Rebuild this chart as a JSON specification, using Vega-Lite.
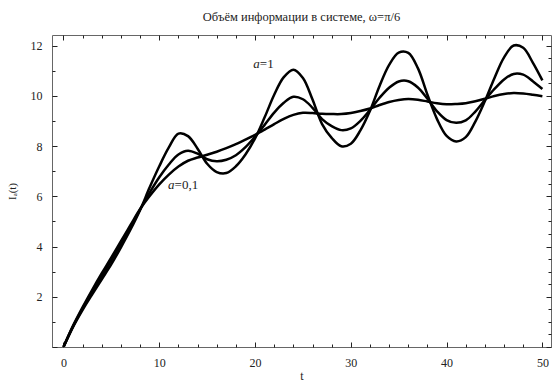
{
  "$schema": "https://vega.github.io/schema/vega-lite/v6.json",
  "autosize": "none",
  "width": 499,
  "height": 312,
  "padding": {"left": 52, "top": 35, "right": 2, "bottom": 38},
  "background": "white",
  "config": {
    "view": {"stroke": "#666666", "strokeWidth": 1},
    "font": "Liberation Serif",
    "axis": {"grid": false, "labelFont": "Liberation Serif", "titleFont": "Liberation Serif", "labelColor": "#222222", "titleColor": "#222222", "titleFontWeight": "normal", "labelFontSize": 12, "titleFontSize": 12, "domain": false, "tickColor": "#222222", "tickWidth": 1}
  },
  "title": {"text": "Объём информации  в системе, ω=π/6", "font": "Liberation Serif", "fontSize": 12.5, "fontWeight": "normal", "color": "#222222", "anchor": "middle", "offset": 11},
  "datasets": {
    "curves": [
      {"t":0,"I":0,"series":"a=1"},{"t":1,"I":0.80,"series":"a=1"},{"t":2,"I":1.48,"series":"a=1"},{"t":3,"I":2.10,"series":"a=1"},{"t":4,"I":2.70,"series":"a=1"},{"t":5,"I":3.30,"series":"a=1"},{"t":6,"I":3.97,"series":"a=1"},{"t":7,"I":4.68,"series":"a=1"},{"t":8,"I":5.46,"series":"a=1"},{"t":9,"I":6.36,"series":"a=1"},{"t":10,"I":7.20,"series":"a=1"},{"t":11,"I":7.95,"series":"a=1"},{"t":12,"I":8.50,"series":"a=1"},{"t":13,"I":8.40,"series":"a=1"},{"t":14,"I":7.90,"series":"a=1"},{"t":15,"I":7.30,"series":"a=1"},{"t":16,"I":6.97,"series":"a=1"},{"t":17,"I":6.93,"series":"a=1"},{"t":18,"I":7.20,"series":"a=1"},{"t":19,"I":7.67,"series":"a=1"},{"t":20,"I":8.31,"series":"a=1"},{"t":21,"I":9.15,"series":"a=1"},{"t":22,"I":10.05,"series":"a=1"},{"t":23,"I":10.75,"series":"a=1"},{"t":24,"I":11.05,"series":"a=1"},{"t":25,"I":10.72,"series":"a=1"},{"t":26,"I":9.86,"series":"a=1"},{"t":27,"I":8.88,"series":"a=1"},{"t":28,"I":8.33,"series":"a=1"},{"t":29,"I":8.00,"series":"a=1"},{"t":30,"I":8.10,"series":"a=1"},{"t":31,"I":8.63,"series":"a=1"},{"t":32,"I":9.41,"series":"a=1"},{"t":33,"I":10.40,"series":"a=1"},{"t":34,"I":11.24,"series":"a=1"},{"t":35,"I":11.73,"series":"a=1"},{"t":36,"I":11.72,"series":"a=1"},{"t":37,"I":11.11,"series":"a=1"},{"t":38,"I":10.05,"series":"a=1"},{"t":39,"I":9.08,"series":"a=1"},{"t":40,"I":8.41,"series":"a=1"},{"t":41,"I":8.19,"series":"a=1"},{"t":42,"I":8.36,"series":"a=1"},{"t":43,"I":8.98,"series":"a=1"},{"t":44,"I":9.80,"series":"a=1"},{"t":45,"I":10.72,"series":"a=1"},{"t":46,"I":11.54,"series":"a=1"},{"t":47,"I":12.01,"series":"a=1"},{"t":48,"I":11.92,"series":"a=1"},{"t":49,"I":11.33,"series":"a=1"},{"t":50,"I":10.62,"series":"a=1"},
      {"t":0,"I":0,"series":"a=0.5"},{"t":1,"I":0.82,"series":"a=0.5"},{"t":2,"I":1.54,"series":"a=0.5"},{"t":3,"I":2.20,"series":"a=0.5"},{"t":4,"I":2.83,"series":"a=0.5"},{"t":5,"I":3.45,"series":"a=0.5"},{"t":6,"I":4.11,"series":"a=0.5"},{"t":7,"I":4.78,"series":"a=0.5"},{"t":8,"I":5.48,"series":"a=0.5"},{"t":9,"I":6.15,"series":"a=0.5"},{"t":10,"I":6.76,"series":"a=0.5"},{"t":11,"I":7.27,"series":"a=0.5"},{"t":12,"I":7.67,"series":"a=0.5"},{"t":13,"I":7.82,"series":"a=0.5"},{"t":14,"I":7.70,"series":"a=0.5"},{"t":15,"I":7.48,"series":"a=0.5"},{"t":16,"I":7.40,"series":"a=0.5"},{"t":17,"I":7.46,"series":"a=0.5"},{"t":18,"I":7.64,"series":"a=0.5"},{"t":19,"I":7.96,"series":"a=0.5"},{"t":20,"I":8.38,"series":"a=0.5"},{"t":21,"I":8.85,"series":"a=0.5"},{"t":22,"I":9.34,"series":"a=0.5"},{"t":23,"I":9.73,"series":"a=0.5"},{"t":24,"I":9.97,"series":"a=0.5"},{"t":25,"I":9.87,"series":"a=0.5"},{"t":26,"I":9.53,"series":"a=0.5"},{"t":27,"I":9.08,"series":"a=0.5"},{"t":28,"I":8.80,"series":"a=0.5"},{"t":29,"I":8.64,"series":"a=0.5"},{"t":30,"I":8.71,"series":"a=0.5"},{"t":31,"I":9.01,"series":"a=0.5"},{"t":32,"I":9.45,"series":"a=0.5"},{"t":33,"I":9.93,"series":"a=0.5"},{"t":34,"I":10.33,"series":"a=0.5"},{"t":35,"I":10.58,"series":"a=0.5"},{"t":36,"I":10.59,"series":"a=0.5"},{"t":37,"I":10.34,"series":"a=0.5"},{"t":38,"I":9.89,"series":"a=0.5"},{"t":39,"I":9.39,"series":"a=0.5"},{"t":40,"I":9.04,"series":"a=0.5"},{"t":41,"I":8.93,"series":"a=0.5"},{"t":42,"I":9.03,"series":"a=0.5"},{"t":43,"I":9.38,"series":"a=0.5"},{"t":44,"I":9.84,"series":"a=0.5"},{"t":45,"I":10.28,"series":"a=0.5"},{"t":46,"I":10.66,"series":"a=0.5"},{"t":47,"I":10.88,"series":"a=0.5"},{"t":48,"I":10.85,"series":"a=0.5"},{"t":49,"I":10.59,"series":"a=0.5"},{"t":50,"I":10.28,"series":"a=0.5"},
      {"t":0,"I":0,"series":"a=0.1"},{"t":1,"I":0.85,"series":"a=0.1"},{"t":2,"I":1.59,"series":"a=0.1"},{"t":3,"I":2.28,"series":"a=0.1"},{"t":4,"I":2.94,"series":"a=0.1"},{"t":5,"I":3.57,"series":"a=0.1"},{"t":6,"I":4.22,"series":"a=0.1"},{"t":7,"I":4.86,"series":"a=0.1"},{"t":8,"I":5.50,"series":"a=0.1"},{"t":9,"I":6.02,"series":"a=0.1"},{"t":10,"I":6.48,"series":"a=0.1"},{"t":11,"I":6.87,"series":"a=0.1"},{"t":12,"I":7.19,"series":"a=0.1"},{"t":13,"I":7.42,"series":"a=0.1"},{"t":14,"I":7.55,"series":"a=0.1"},{"t":15,"I":7.66,"series":"a=0.1"},{"t":16,"I":7.78,"series":"a=0.1"},{"t":17,"I":7.92,"series":"a=0.1"},{"t":18,"I":8.08,"series":"a=0.1"},{"t":19,"I":8.26,"series":"a=0.1"},{"t":20,"I":8.45,"series":"a=0.1"},{"t":21,"I":8.66,"series":"a=0.1"},{"t":22,"I":8.88,"series":"a=0.1"},{"t":23,"I":9.09,"series":"a=0.1"},{"t":24,"I":9.25,"series":"a=0.1"},{"t":25,"I":9.33,"series":"a=0.1"},{"t":26,"I":9.32,"series":"a=0.1"},{"t":27,"I":9.29,"series":"a=0.1"},{"t":28,"I":9.28,"series":"a=0.1"},{"t":29,"I":9.28,"series":"a=0.1"},{"t":30,"I":9.32,"series":"a=0.1"},{"t":31,"I":9.40,"series":"a=0.1"},{"t":32,"I":9.50,"series":"a=0.1"},{"t":33,"I":9.64,"series":"a=0.1"},{"t":34,"I":9.76,"series":"a=0.1"},{"t":35,"I":9.84,"series":"a=0.1"},{"t":36,"I":9.88,"series":"a=0.1"},{"t":37,"I":9.85,"series":"a=0.1"},{"t":38,"I":9.78,"series":"a=0.1"},{"t":39,"I":9.71,"series":"a=0.1"},{"t":40,"I":9.67,"series":"a=0.1"},{"t":41,"I":9.68,"series":"a=0.1"},{"t":42,"I":9.71,"series":"a=0.1"},{"t":43,"I":9.79,"series":"a=0.1"},{"t":44,"I":9.89,"series":"a=0.1"},{"t":45,"I":10.00,"series":"a=0.1"},{"t":46,"I":10.08,"series":"a=0.1"},{"t":47,"I":10.12,"series":"a=0.1"},{"t":48,"I":10.10,"series":"a=0.1"},{"t":49,"I":10.05,"series":"a=0.1"},{"t":50,"I":9.99,"series":"a=0.1"}
    ],
    "italicPart": [
      {"t": 19.8, "I": 11.27, "label": "a"},
      {"t": 10.9, "I": 6.45, "label": "a"}
    ],
    "plainPart": [
      {"t": 20.5, "I": 11.27, "label": "=1"},
      {"t": 11.6, "I": 6.45, "label": "=0,1"}
    ]
  },
  "resolve": {"axis": {"x": "independent", "y": "independent"}},
  "layer": [
    {
      "data": {"name": "curves"},
      "mark": {"type": "line", "color": "black", "strokeWidth": 2.5, "interpolate": "catmull-rom", "clip": true},
      "encoding": {
        "x": {"field": "t", "type": "quantitative", "scale": {"domain": [-1.2, 50.9], "nice": false, "zero": false},
          "axis": {"orient": "bottom", "title": "t", "format": "d", "values": [0,2,4,6,8,10,12,14,16,18,20,22,24,26,28,30,32,34,36,38,40,42,44,46,48,50],
            "labelExpr": "datum.value % 10 === 0 ? datum.label : ''",
            "tickSize": {"condition": {"test": "datum.value % 10 === 0", "value": -5}, "value": -3},
            "labelPadding": 15, "titlePadding": 2}},
        "y": {"field": "I", "type": "quantitative", "scale": {"domain": [0, 12.43], "nice": false, "zero": false},
          "axis": {"orient": "left", "title": "Iₐ(t)", "titleFontSize": 11, "format": "d", "values": [0,0.5,1,1.5,2,2.5,3,3.5,4,4.5,5,5.5,6,6.5,7,7.5,8,8.5,9,9.5,10,10.5,11,11.5,12],
            "labelExpr": "datum.value % 2 === 0 && datum.value > 0 ? datum.label : ''",
            "tickSize": {"condition": {"test": "datum.value % 2 === 0", "value": -5}, "value": -3},
            "labelPadding": 15, "titlePadding": 13}},
        "detail": {"field": "series", "type": "nominal"}
      }
    },
    {
      "data": {"name": "italicPart"},
      "mark": {"type": "text", "font": "Liberation Serif", "fontSize": 13, "fontStyle": "italic", "align": "left", "baseline": "middle", "color": "#222222"},
      "encoding": {
        "x": {"field": "t", "type": "quantitative",
          "axis": {"orient": "top", "title": null, "labels": false, "values": [0,2,4,6,8,10,12,14,16,18,20,22,24,26,28,30,32,34,36,38,40,42,44,46,48,50],
            "tickSize": {"condition": {"test": "datum.value % 10 === 0", "value": -5}, "value": -3}}},
        "y": {"field": "I", "type": "quantitative",
          "axis": {"orient": "right", "title": null, "labels": false, "values": [0,0.5,1,1.5,2,2.5,3,3.5,4,4.5,5,5.5,6,6.5,7,7.5,8,8.5,9,9.5,10,10.5,11,11.5,12],
            "tickSize": {"condition": {"test": "datum.value % 2 === 0", "value": -5}, "value": -3}}},
        "text": {"field": "label", "type": "nominal"}
      }
    },
    {
      "data": {"name": "plainPart"},
      "mark": {"type": "text", "font": "Liberation Serif", "fontSize": 13, "align": "left", "baseline": "middle", "color": "#222222"},
      "encoding": {
        "x": {"field": "t", "type": "quantitative", "axis": null},
        "y": {"field": "I", "type": "quantitative", "axis": null},
        "text": {"field": "label", "type": "nominal"}
      }
    }
  ]
}
